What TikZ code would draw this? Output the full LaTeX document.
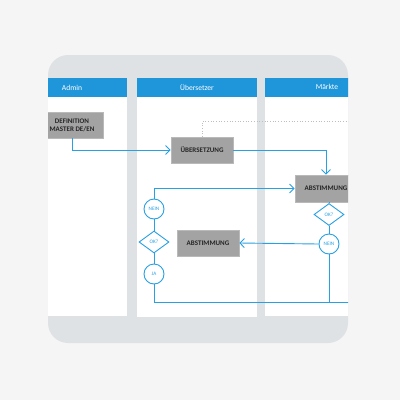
\documentclass[tikz,border=0pt]{standalone}
\usepackage{fontspec}
\setmainfont{Carlito}
\usetikzlibrary{shapes.geometric,arrows.meta}
\definecolor{pagebg}{RGB}{245,245,245}
\definecolor{cardbg}{RGB}{223,226,229}
\definecolor{laneblue}{RGB}{32,150,218}
\definecolor{flowblue}{RGB}{40,160,228}
\definecolor{boxgray}{RGB}{163,163,163}
\definecolor{boxedge}{RGB}{185,185,185}
\definecolor{dotgray}{RGB}{190,190,190}
\tikzset{
  lanehead/.style={fill=laneblue},
  lanebody/.style={fill=white},
  headtext/.style={text=white,font=\fontsize{7.6}{8}\selectfont},
  taskbox/.style={rectangle,fill=boxgray,draw=boxedge,line width=0.6pt,minimum width=62pt,minimum height=26pt,inner sep=0pt,align=center,font=\bfseries\fontsize{7}{8.2}\selectfont,text=black!85},
  flow/.style={draw=flowblue,line width=0.9pt},
  arr/.style={flow,-{Straight Barb[length=4.5pt,width=9pt,line width=0.9pt]}},
  choice/.style={circle,draw=flowblue,line width=0.9pt,fill=white,minimum size=20pt,inner sep=0pt,text=flowblue,font=\fontsize{5.2}{6}\selectfont},
  decide/.style={diamond,draw=flowblue,line width=0.9pt,fill=white,minimum width=30pt,minimum height=22pt,aspect=1.36,inner sep=0pt,text=flowblue,font=\fontsize{5.2}{6}\selectfont},
  dotline/.style={draw=dotgray,line width=0.7pt,dotted}
}
\begin{document}
\begin{tikzpicture}[x=1pt,y=-1pt]
\fill[pagebg] (0,0) rectangle (400,400);
\useasboundingbox (0,0) rectangle (400,400);
\fill[cardbg,rounded corners=20pt] (48,55) rectangle (348,343);
\begin{scope}
\clip[rounded corners=20pt] (48,55) rectangle (348,343);
% lanes
\fill[lanebody] (40,97) rectangle (127,316);
\fill[lanehead] (40,78) rectangle (127,97);
\fill[lanebody] (137,97) rectangle (257,317);
\fill[lanehead] (137,78) rectangle (257,97);
\fill[lanebody] (265,97) rectangle (360,316);
\fill[lanehead] (265,78) rectangle (360,97);
\node[headtext] (hAdmin) at (72,87.5) {Admin};
\node[headtext] (hUeb) at (197,87) {Übersetzer};
\node[headtext] (hMkt) at (327,87) {Märkte};
% nodes
\node[taskbox] (def) at (72,125) {DEFINITION\\MASTER DE/EN};
\node[taskbox] (ueb) at (202,150) {ÜBERSETZUNG};
\node[taskbox,minimum height=27pt] (abstR) at (326,188.5) {ABSTIMMUNG};
\node[taskbox] (abstM) at (208,243) {ABSTIMMUNG};
\node[choice] (neinL) at (154,209) {NEIN};
\node[decide] (okL) at (154,242) {OK?};
\node[choice] (ja) at (154,274) {JA};
\node[decide] (okR) at (329,214.5) {OK?};
\node[choice] (neinR) at (329,244) {NEIN};
\coordinate (dotEnd) at (365,121);
\coordinate (botEnd) at (365,302);
% connectors
\draw[dotline] (ueb.north) |- (dotEnd);
\draw[arr] (def.south) |- (ueb.west);
\draw[arr] (ueb.east) -| (abstR.north);
\draw[arr] (neinL.north) |- (abstR.west);
\draw[flow] (neinL.south) -- (okL.north);
\draw[flow] (okL.south) -- (ja.north);
\draw[flow] (ja.south) |- (botEnd);
\draw[flow] (okR.north) -- (okR.north |- abstR.south);
\draw[flow] (okR.south) -- (neinR.north);
\draw[arr] (neinR.west) -- (abstM.east);
\draw[flow] (neinR.south) -- (neinR.south |- botEnd);
\end{scope}
\end{tikzpicture}
\end{document}
